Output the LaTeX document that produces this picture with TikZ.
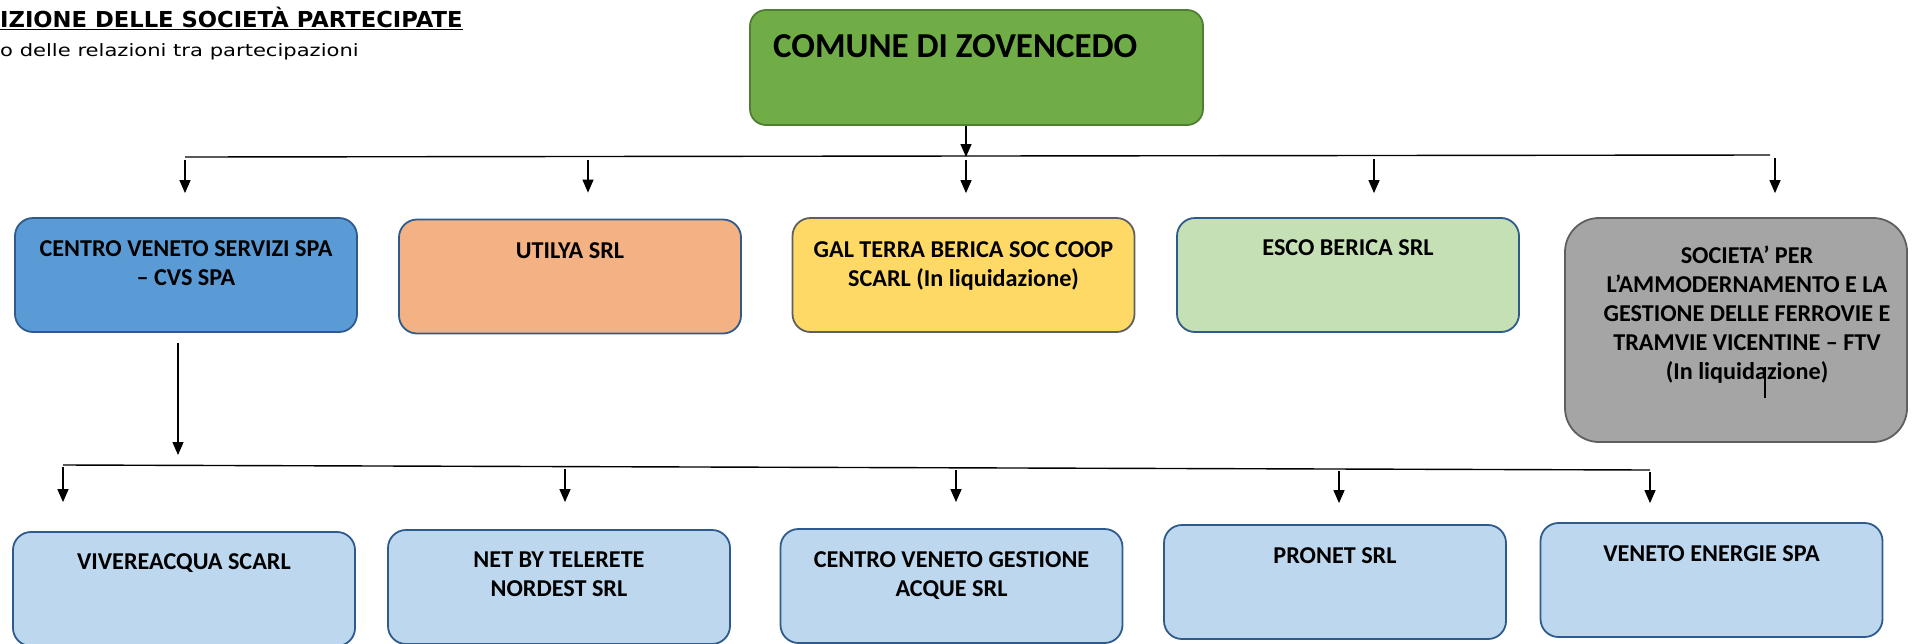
\documentclass[tikz,border=0pt]{standalone}
\usepackage{fontspec}
\setmainfont{Carlito}
\newfontfamily\verdanatit[FakeStretch=1.03]{DejaVu Sans}
\newfontfamily\verdanasub[FakeStretch=1.24]{DejaVu Sans}
\usetikzlibrary{arrows.meta}
\definecolor{verde}{HTML}{70AD47}
\definecolor{bordoverde}{HTML}{507E32}
\definecolor{blu}{HTML}{5B9BD5}
\definecolor{bordoblu}{HTML}{2F5B8C}
\definecolor{arancio}{HTML}{F4B183}
\definecolor{giallo}{HTML}{FFD966}
\definecolor{verdino}{HTML}{C5E0B4}
\definecolor{grigio}{HTML}{A5A5A5}
\definecolor{grigioscuro}{HTML}{5F5F5F}
\definecolor{azzurro}{HTML}{BDD7EE}
\tikzset{
  ente/.style={draw=bordoblu, line width=1.8pt, rounded corners=18pt,
    minimum width=342pt, minimum height=114pt, inner sep=0pt},
  nome/.style={anchor=north, align=center, inner sep=0pt,
    font=\bfseries\fontsize{24.2}{29}\selectfont},
  linea/.style={line width=1.4pt},
  freccia/.style={line width=1.3pt, -{Triangle[width=11pt,length=13pt]}},
}
\begin{document}
\begin{tikzpicture}[x=1pt,y=-1pt]
\useasboundingbox (0,0) rectangle (1913,643);
\node[anchor=base west, inner sep=0pt, font=\verdanatit\bfseries\fontsize{22}{26}\selectfont] (titolo) at (0,27) {\underline{IZIONE DELLE SOCIETÀ PARTECIPATE}};
\node[anchor=base west, inner sep=0pt, font=\verdanasub\fontsize{17}{20}\selectfont] (sottotitolo) at (0,56) {o delle relazioni tra partecipazioni};
% comune
\node[ente, draw=bordoverde, fill=verde, minimum width=453pt, minimum height=115pt, rounded corners=16pt] (comune) at (976.5,67.5) {};
\node[anchor=base west, inner sep=0pt, font=\bfseries\fontsize{35}{42}\selectfont] (tcomune) at (773,57) {COMUNE DI ZOVENCEDO};
% partecipate dirette
\node[ente, fill=blu] (cvs) at (186,275) {};
\node[nome] (tcvs) at (186,240) {CENTRO VENETO SERVIZI SPA\\– CVS SPA};
\node[ente, fill=arancio] (utilya) at (570,276.5) {};
\node[nome] (tutilya) at (570,242) {UTILYA SRL};
\node[ente, fill=giallo, draw=grigioscuro] (gal) at (963.5,275) {};
\node[nome] (tgal) at (963.5,241) {GAL TERRA BERICA SOC COOP\\SCARL (In liquidazione)};
\node[ente, fill=verdino] (esco) at (1348,275) {};
\node[nome] (tesco) at (1348,239) {ESCO BERICA SRL};
\node[ente, fill=grigio, draw=grigioscuro, minimum height=224pt, rounded corners=34pt] (ftv) at (1736,330) {};
\node[nome] (tftv) at (1747,246) {SOCIETA’ PER\\L’AMMODERNAMENTO E LA\\GESTIONE DELLE FERROVIE E\\TRAMVIE VICENTINE – FTV\\(In liquidazione)};
\draw[line width=1.2pt] ([xshift=29pt,yshift=-37pt]ftv.center) -- ++(0,31);
% partecipate indirette
\node[ente, fill=azzurro] (vivere) at (184,589) {};
\node[nome] (tvivere) at (184,553) {VIVEREACQUA SCARL};
\node[ente, fill=azzurro] (netby) at (559,587) {};
\node[nome] (tnetby) at (559,552) {NET BY TELERETE\\NORDEST SRL};
\node[ente, fill=azzurro] (cvga) at (951.5,586) {};
\node[nome] (tcvga) at (951.5,551) {CENTRO VENETO GESTIONE\\ACQUE SRL};
\node[ente, fill=azzurro] (pronet) at (1335,582) {};
\node[nome] (tpronet) at (1335,547) {PRONET SRL};
\node[ente, fill=azzurro] (veneto) at (1711.5,580) {};
\node[nome] (tveneto) at (1711.5,545) {VENETO ENERGIE SPA};
% collegamenti
\coordinate (a1) at (185,157);
\coordinate (a2) at (588,157);
\coordinate (a3) at (966,157);
\coordinate (a4) at (1374,156);
\coordinate (a5) at (1775,155);
\coordinate (fineA) at (1770,155);
\draw[linea] (a1) -- (fineA);
\draw[freccia] (comune.south -| a3) -- (a3);
\foreach \p/\n/\s in {a1/cvs/24pt, a2/utilya/26pt, a3/gal/24pt, a4/esco/24pt, a5/ftv/24pt}
  \draw[freccia, shorten <=3pt, shorten >=\s] (\p) -- (\p |- \n.north);
\coordinate (b0) at (178,465);
\coordinate (b1) at (63,465);
\coordinate (b2) at (565,467);
\coordinate (b3) at (956,468);
\coordinate (b4) at (1339,469);
\coordinate (b5) at (1650,470);
\draw[freccia, shorten <=10pt, shorten >=10pt] (cvs.south -| b0) -- (b0);
\draw[linea] (b1) -- (b5);
\foreach \p/\n/\s in {b1/vivere/29pt, b2/netby/27pt, b3/cvga/26pt, b4/pronet/21pt, b5/veneto/19pt}
  \draw[freccia, shorten <=2pt, shorten >=\s] (\p) -- (\p |- \n.north);
\end{tikzpicture}
\end{document}
